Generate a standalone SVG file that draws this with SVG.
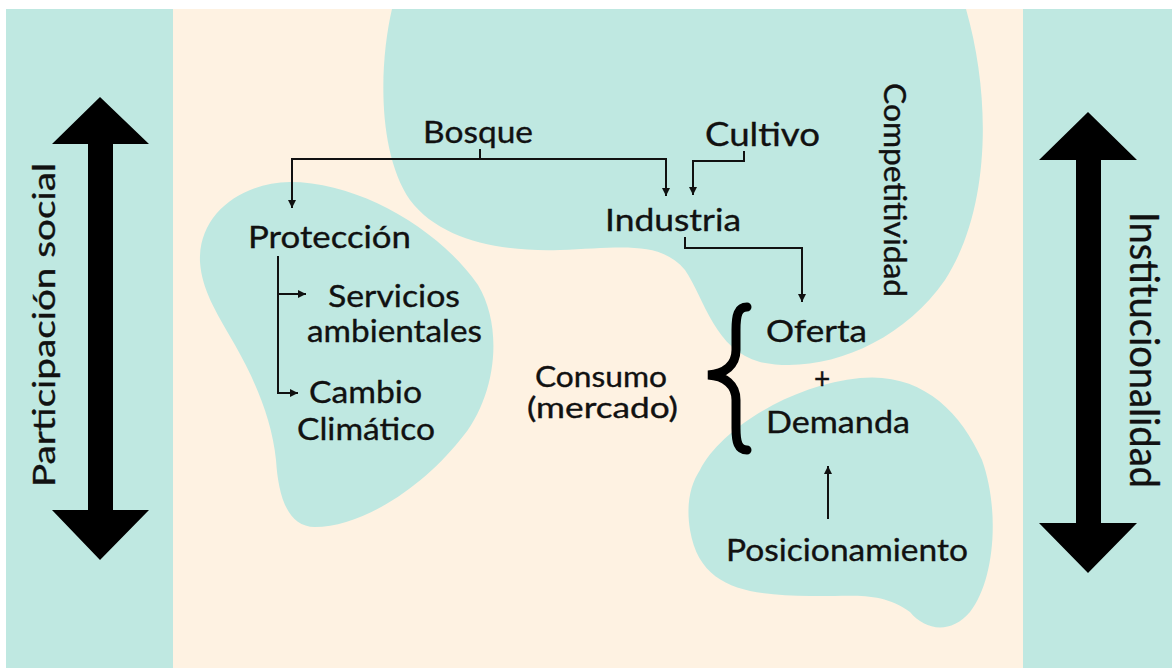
<svg xmlns="http://www.w3.org/2000/svg" width="1172" height="668" viewBox="0 0 1172 668">
<style>
.t{font-family:Lato,"Liberation Sans",sans-serif;font-size:31px;fill:#111;stroke:#111;stroke-width:0.35;}
.blob{fill:#BFE8E1;}
.panel{fill:#BFE8E1;}
.con{fill:none;stroke:#111;stroke-width:2;}
.big{fill:#000;}
</style>
<defs>
<marker id="ah" markerUnits="userSpaceOnUse" markerWidth="9" markerHeight="9" refX="8" refY="4.5" orient="auto">
<path d="M0,0.5 L8,4.5 L0,8.5 z" fill="#111"/>
</marker>
</defs>
<rect x="0" y="0" width="1172" height="668" fill="#fff"/>
<rect x="173" y="9" width="850" height="659" fill="#FEF2E2"/>
<rect class="panel" x="6" y="9" width="167" height="659"/>
<rect class="panel" x="1023" y="9" width="149" height="659"/>

<g id="blob-competitividad">
<path class="blob" d="M 392,9 C 380,60 376,150 410,200 C 440,240 500,252 560,250 C 620,248 660,240 685,270 C 705,300 715,350 760,362 C 820,375 900,345 945,280 C 990,210 992,100 966,9 Z"/>
</g>
<g id="blob-proteccion">
<path class="blob" d="M 200,262 C 198,215 240,183 290,182 C 360,182 440,230 478,285 C 505,330 495,400 460,440 C 420,490 360,527 315,527 C 285,527 278,490 276,460 C 272,420 255,380 235,345 C 215,310 202,290 200,262 Z"/>
</g>
<g id="blob-posicionamiento">
<path class="blob" d="M 700,470 C 720,430 790,385 860,378 C 920,372 960,410 982,460 C 1000,510 995,580 970,612 C 950,635 925,630 910,612 C 880,590 850,597 810,596 C 750,595 700,590 690,530 C 686,505 690,485 700,470 Z"/>
</g>

<g id="arrow-participacion">
<polygon class="big" points="100,97 149,144 113,144 113,510 149,510 100,560 52,510 88,510 88,144 52,144"/>
<text class="t" transform="translate(55,325) rotate(-90)" text-anchor="middle" textLength="324" lengthAdjust="spacingAndGlyphs">Participación social</text>
</g>
<g id="arrow-institucionalidad">
<polygon class="big" points="1088,112 1137,160 1101,160 1101,523 1137,523 1088,573 1039,523 1076,523 1076,160 1039,160"/>
<text class="t" style="font-size:40px" transform="translate(1130,350) rotate(90)" text-anchor="middle" textLength="276" lengthAdjust="spacingAndGlyphs">Institucionalidad</text>
</g>

<g id="connectors">
<path class="con" d="M 480,149 V 159 H 292 V 208" marker-end="url(#ah)"/>
<path class="con" d="M 480,159 H 666 V 196" marker-end="url(#ah)"/>
<path class="con" d="M 744,151 V 161 H 693 V 195" marker-end="url(#ah)"/>
<path class="con" d="M 685,237 V 248 H 802 V 302" marker-end="url(#ah)"/>
<path class="con" d="M 278,256 V 393 H 298" marker-end="url(#ah)"/>
<path class="con" d="M 278,294 H 306" marker-end="url(#ah)"/>
<path class="con" d="M 828,519 V 466" marker-end="url(#ah)"/>
<path d="M 747,307 C 738,307 736,315 736,330 L 736,350 C 736,365 725,374 708,375 C 725,376 736,385 736,400 L 736,428 C 736,442 738,450 747,450" fill="none" stroke="#000" stroke-width="9" stroke-linecap="round"/>
</g>

<g id="node-bosque"><text class="t" x="423" y="143" textLength="110" lengthAdjust="spacingAndGlyphs">Bosque</text></g>
<g id="node-cultivo"><text class="t" style="font-size:33px" x="705" y="146" textLength="115" lengthAdjust="spacingAndGlyphs">Cultivo</text></g>
<g id="node-industria"><text class="t" x="605" y="231" textLength="136" lengthAdjust="spacingAndGlyphs">Industria</text></g>
<g id="node-competitividad"><text class="t" transform="translate(884,190) rotate(90)" text-anchor="middle" textLength="214" lengthAdjust="spacingAndGlyphs">Competitividad</text></g>
<g id="node-proteccion"><text class="t" x="248" y="248" textLength="163" lengthAdjust="spacingAndGlyphs">Protección</text></g>
<g id="node-servicios">
<text class="t" x="328" y="307" textLength="132" lengthAdjust="spacingAndGlyphs">Servicios</text>
<text class="t" x="307" y="342" textLength="175" lengthAdjust="spacingAndGlyphs">ambientales</text>
</g>
<g id="node-cambio">
<text class="t" x="309" y="403" textLength="113" lengthAdjust="spacingAndGlyphs">Cambio</text>
<text class="t" x="297" y="440" textLength="138" lengthAdjust="spacingAndGlyphs">Climático</text>
</g>
<g id="node-consumo">
<text class="t" style="font-size:28px" x="535" y="387" textLength="132" lengthAdjust="spacingAndGlyphs">Consumo</text>
<text class="t" style="font-size:28px" x="527" y="418" textLength="151" lengthAdjust="spacingAndGlyphs">(mercado)</text>
</g>
<g id="node-oferta"><text class="t" x="766" y="342" textLength="101" lengthAdjust="spacingAndGlyphs">Oferta</text></g>
<g id="node-plus"><text class="t" style="font-size:28px" x="822" y="389" text-anchor="middle">+</text></g>
<g id="node-demanda"><text class="t" x="766" y="433" textLength="144" lengthAdjust="spacingAndGlyphs">Demanda</text></g>
<g id="node-posicionamiento"><text class="t" x="726" y="561" textLength="242" lengthAdjust="spacingAndGlyphs">Posicionamiento</text></g>
</svg>
